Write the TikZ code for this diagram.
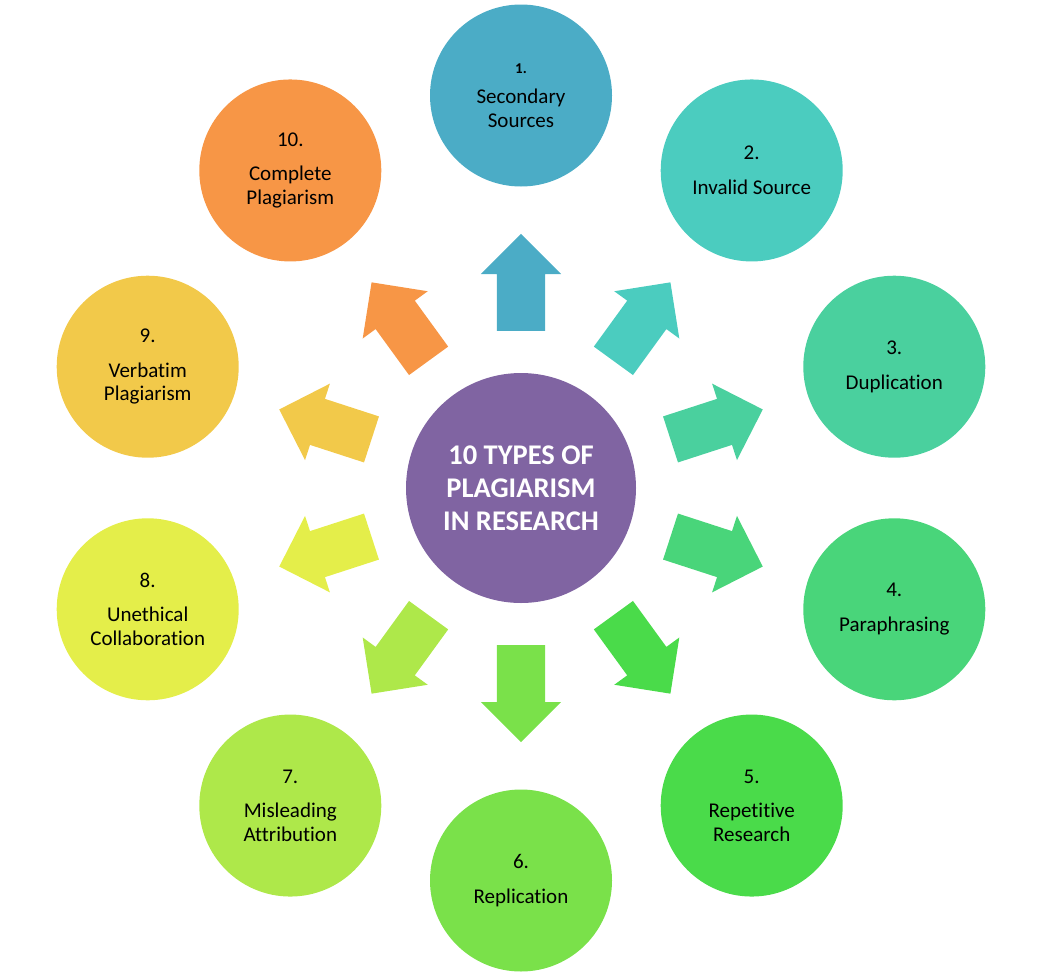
\documentclass[tikz,border=0pt]{standalone}
\usepackage{fontspec}
\setmainfont{Carlito}[Ligatures=NoCommon]
\usetikzlibrary{shapes.arrows}
\definecolor{hubcol}{RGB}{128,100,162}
\definecolor{col1}{RGB}{75,172,198}
\definecolor{col2}{RGB}{75,204,191}
\definecolor{col3}{RGB}{74,208,158}
\definecolor{col4}{RGB}{73,213,122}
\definecolor{col5}{RGB}{74,219,74}
\definecolor{col6}{RGB}{122,225,74}
\definecolor{col7}{RGB}{174,232,74}
\definecolor{col8}{RGB}{228,238,74}
\definecolor{col9}{RGB}{242,201,74}
\definecolor{col10}{RGB}{247,150,70}
\begin{document}
\begin{tikzpicture}[x=1pt,y=1pt,
  bubble/.style={circle, minimum size=182pt, inner sep=0pt, align=center, font=\fontsize{21}{23.5}\selectfont},
  arrowbox/.style={single arrow, minimum height=97pt, inner xsep=0pt, inner ysep=24pt, single arrow head extend=16pt, anchor=tail}]
\useasboundingbox (0,0) rectangle (1044,-977);
\begin{scope}[shift={(521,-488)}]
\node[circle, fill=hubcol, minimum size=230pt, inner sep=0pt, align=center, text=white, font=\fontsize{28.5}{33}\selectfont\bfseries] (hub) at (0,0) {10 TYPES OF\\PLAGIARISM\\IN RESEARCH};

%\node[draw, circle] (t0) at (0,0) {};
\node[bubble, fill=col1] (t1) at (90:392.5) {{\fontsize{15}{17}\selectfont\bfseries 1.}\\[7pt]Secondary\\Sources};
\node[bubble, fill=col2] (t2) at (54:392.5) {2.\\[11pt]Invalid Source};
\node[bubble, fill=col3] (t3) at (18:392.5) {3.\\[11pt]Duplication};
\node[bubble, fill=col4] (t4) at (-18:392.5) {4.\\[11pt]Paraphrasing};
\node[bubble, fill=col5] (t5) at (-54:392.5) {5.\\[11pt]Repetitive\\Research};
\node[bubble, fill=col6] (t6) at (-90:392.5) {6.\\[11pt]Replication};
\node[bubble, fill=col7] (t7) at (-126:392.5) {7.\\[11pt]Misleading\\Attribution};
\node[bubble, fill=col8] (t8) at (-162:392.5) {8.\\[11pt]Unethical\\Collaboration};
\node[bubble, fill=col9] (t9) at (162:392.5) {9.\\[11pt]Verbatim\\Plagiarism};
\node[bubble, fill=col10] (t10) at (126:392.5) {10.\\[11pt]Complete\\Plagiarism};

\node[arrowbox, fill=col1, rotate=90] (a1) at (90:157) {};
\node[arrowbox, fill=col2, rotate=54] (a2) at (54:157) {};
\node[arrowbox, fill=col3, rotate=18] (a3) at (18:157) {};
\node[arrowbox, fill=col4, rotate=-18] (a4) at (-18:157) {};
\node[arrowbox, fill=col5, rotate=-54] (a5) at (-54:157) {};
\node[arrowbox, fill=col6, rotate=-90] (a6) at (-90:157) {};
\node[arrowbox, fill=col7, rotate=-126] (a7) at (-126:157) {};
\node[arrowbox, fill=col8, rotate=-162] (a8) at (-162:157) {};
\node[arrowbox, fill=col9, rotate=162] (a9) at (162:157) {};
\node[arrowbox, fill=col10, rotate=126] (a10) at (126:157) {};
\end{scope}
\end{tikzpicture}
\end{document}
